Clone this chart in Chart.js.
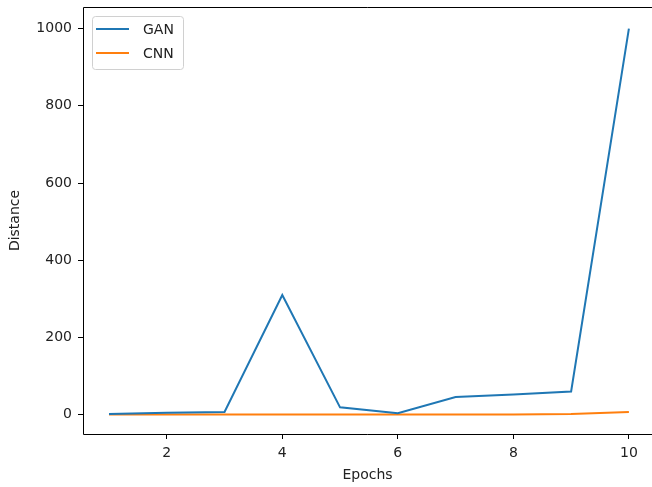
<!DOCTYPE html>
<html>
<head>
<meta charset="utf-8">
<script src="https://cdn.jsdelivr.net/npm/chart.js@4/dist/chart.umd.min.js"></script>
<style>
  html, body { margin: 0; padding: 0; background: #fff; }
  #wrap { width: 652px; height: 487px; }
</style>
</head>
<body>
<div id="wrap"><canvas id="grafico" width="652" height="487"></canvas></div>
<script>
const epochs = [1, 2, 3, 4, 5, 6, 7, 8, 9, 10];
const ganDist = [2, 5, 7, 310, 19, 4, 46, 52, 60, 1000];
const cnnDist = [0.5, 0.3, 0.3, 0.2, 0.2, 0.3, 0.3, 0.4, 1.5, 7];
const xTicks = [2, 4, 6, 8, 10];
const yTicks = [0, 200, 400, 600, 800, 1000];

const fuente = { family: 'DejaVu Sans', size: 14 };

// marco de los ejes (arriba, izquierda, abajo) como matplotlib
const marco = {
    id: 'marco',
    afterDraw(chart) {
        const { ctx, chartArea: a } = chart;
        ctx.save();
        ctx.strokeStyle = '#000';
        ctx.lineWidth = 1;
        ctx.beginPath();
        ctx.moveTo(a.right, a.top + 0.5);
        ctx.lineTo(a.left + 0.5, a.top + 0.5);
        ctx.lineTo(a.left + 0.5, a.bottom + 0.5);
        ctx.lineTo(a.right, a.bottom + 0.5);
        ctx.stroke();
        ctx.restore();
    }
};

// leyenda dentro del grafico, arriba a la izquierda
const leyenda = {
    id: 'leyenda',
    afterDraw(chart) {
        const { ctx } = chart;
        const x = 92, y = 16, w = 91, h = 53;
        ctx.save();
        ctx.fillStyle = 'rgba(255,255,255,0.8)';
        ctx.strokeStyle = '#d0d0d0';
        ctx.lineWidth = 1;
        ctx.beginPath();
        ctx.roundRect(x + 0.5, y + 0.5, w, h, 3);
        ctx.fill();
        ctx.stroke();
        ctx.font = '14px "DejaVu Sans"';
        ctx.textBaseline = 'middle';
        chart.data.datasets.forEach((ds, i) => {
            const yy = 29 + i * 24;
            ctx.strokeStyle = ds.borderColor;
            ctx.lineWidth = 2;
            ctx.beginPath();
            ctx.moveTo(96, yy);
            ctx.lineTo(129, yy);
            ctx.stroke();
            ctx.fillStyle = '#222';
            ctx.fillText(ds.label, 143, yy + 1);
        });
        ctx.restore();
    }
};

new Chart(document.getElementById('grafico').getContext('2d'), {
    type: 'line',
    data: {
        datasets: [
            {
                label: 'GAN',
                data: epochs.map((e, i) => ({ x: e, y: ganDist[i] })),
                borderColor: '#1f77b4',
                borderWidth: 2,
                pointRadius: 0,
                tension: 0
            },
            {
                label: 'CNN',
                data: epochs.map((e, i) => ({ x: e, y: cnnDist[i] })),
                borderColor: '#ff7f0e',
                borderWidth: 2,
                pointRadius: 0,
                tension: 0
            }
        ]
    },
    options: {
        responsive: false,
        animation: false,
        layout: { padding: { top: 7, left: 0, right: 0, bottom: 0 } },
        plugins: {
            legend: { display: false },
            tooltip: { enabled: false }
        },
        scales: {
            x: {
                type: 'linear',
                min: 0.55,
                max: 10.4,
                afterBuildTicks: s => { s.ticks = xTicks.map(v => ({ value: v })); },
                afterFit: s => { s.height = 53; s.paddingLeft = 0; s.paddingRight = 0; },
                border: { display: false },
                grid: { drawOnChartArea: false, drawTicks: true, tickLength: 5, color: '#000' },
                ticks: { color: '#222', font: fuente, padding: 6, maxRotation: 0, callback: v => String(v) },
                title: { display: true, text: 'Epochs', color: '#222', font: fuente, padding: { top: 0, bottom: 3 } }
            },
            y: {
                min: -50,
                max: 1056,
                afterBuildTicks: s => { s.ticks = yTicks.map(v => ({ value: v })); },
                afterFit: s => { s.width = 83; s.paddingTop = 0; s.paddingBottom = 0; },
                border: { display: false },
                grid: { drawOnChartArea: false, drawTicks: true, tickLength: 5, color: '#000' },
                ticks: { color: '#222', font: fuente, padding: 6, callback: v => String(v) },
                title: { display: true, text: 'Distance', color: '#222', font: fuente, padding: { top: 7, bottom: 0 } }
            }
        }
    },
    plugins: [marco, leyenda]
});
</script>
</body>
</html>
